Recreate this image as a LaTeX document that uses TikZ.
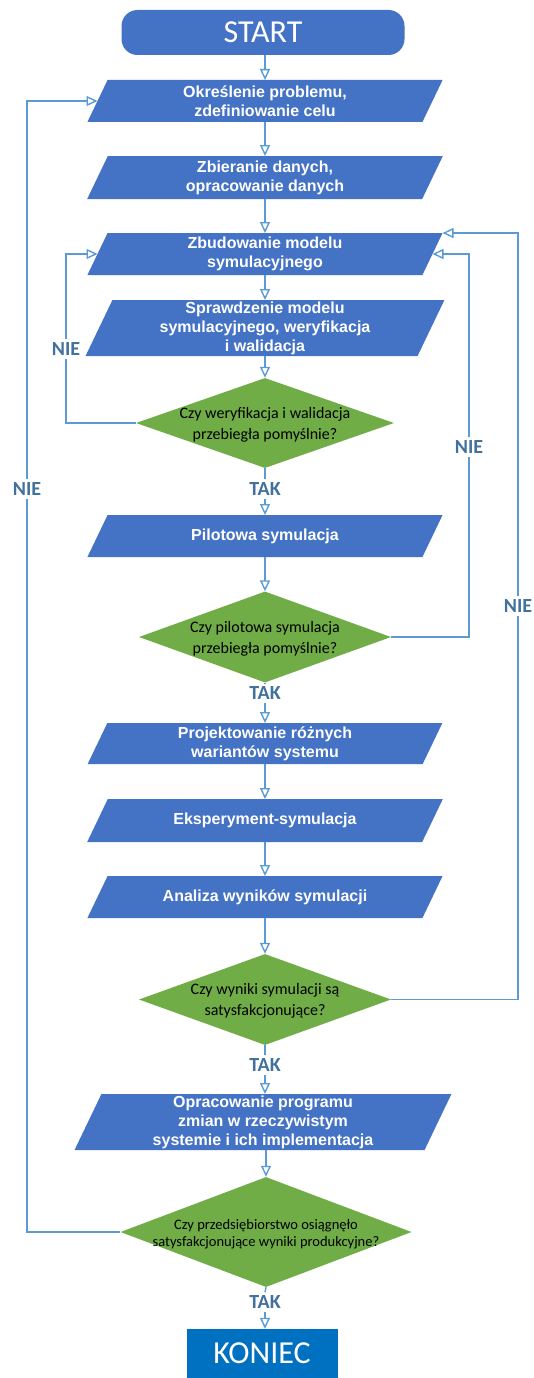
\documentclass[tikz,border=0pt]{standalone}
\usepackage{fontspec}
\newfontfamily\calib{Carlito}
\newfontfamily\arialf{Liberation Sans}
\usetikzlibrary{shapes.geometric,arrows.meta,calc}
\definecolor{pblue}{HTML}{4472C4}
\definecolor{kblue}{HTML}{0070C0}
\definecolor{dgreen}{HTML}{70AD47}
\definecolor{lnblue}{HTML}{5B9BD5}
\definecolor{lblblue}{HTML}{41719C}
\tikzset{
  paratext/.style={text=white, align=center, inner sep=0pt,
    font=\arialf\bfseries\fontsize{16}{19}\selectfont},
  decbox/.style={diamond, fill=dgreen, inner sep=0pt, draw=none},
  dtext/.style={text=black, align=center, inner sep=0pt,
    font=\calib\fontsize{16}{21}\selectfont},
  dtextsmall/.style={dtext, font=\calib\fontsize{14.5}{17.5}\selectfont},
  lbl/.style={text=lblblue, fill=white, inner sep=3pt,
    font=\calib\bfseries\fontsize{20}{24}\selectfont},
  conn/.style={draw=lnblue, line width=1.4pt},
  arr/.style={conn, -{Triangle[open, length=11pt, width=10pt]}},
}
\newcommand\mypara[6]{% name, cx, cy, edge width, height, text
  \pgfmathsetmacro\phw{#4/2}\pgfmathsetmacro\phh{#5/2}\pgfmathsetmacro\phs{#5*0.24}%
  \fill[pblue] (#2-\phw-\phs,#3+\phh) -- (#2+\phw-\phs,#3+\phh) -- (#2+\phw+\phs,#3-\phh) -- (#2-\phw+\phs,#3-\phh) -- cycle;
  \node[paratext] (#1) at (#2,#3) {#6};
  \coordinate (#1-t) at (#2,#3-\phh);
  \coordinate (#1-b) at (#2,#3+\phh);
  \coordinate (#1-l) at (#2-\phw,#3);
  \coordinate (#1-r) at (#2+\phw,#3);
  \coordinate (#1-tr) at (#2+\phw+\phs,#3-\phh);
}
\begin{document}
\begin{tikzpicture}[x=1pt, y=-1pt]
\fill[white] (0,0) rectangle (534,1378);
\useasboundingbox (0,0) rectangle (534,1378);

% terminals
\node[fill=pblue, rounded corners=16pt, minimum width=283pt, minimum height=45pt,
  text=white, font=\calib\fontsize{32}{36}\selectfont, inner sep=0pt] (start) at (263,32.5) {START};
\node[fill=kblue, minimum width=151pt, minimum height=49pt,
  text=white, font=\calib\fontsize{32}{36}\selectfont, inner sep=0pt] (end) at (262,1353.5) {KONIEC};

% process steps
\mypara{p1}{265}{101}{335}{42}{Określenie problemu,\\zdefiniowanie celu}
\mypara{p2}{265}{177.5}{335}{43}{Zbieranie danych,\\opracowanie danych}
\mypara{p3}{265}{254}{335}{42}{Zbudowanie modelu\\symulacyjnego}
\mypara{p4}{265}{328}{332}{56}{Sprawdzenie modelu\\symulacyjnego, weryfikacja\\i walidacja}
\mypara{p5}{265}{536}{335}{42}{Pilotowa symulacja}
\mypara{p6}{265}{743.5}{335}{41}{Projektowanie różnych\\wariantów systemu}
\mypara{p7}{265}{820.5}{335}{43}{Eksperyment-symulacja}
\mypara{p8}{265}{897}{335}{42}{Analiza wyników symulacji}
\mypara{p9}{263}{1122}{350}{56}{Opracowanie programu\\zmian w rzeczywistym\\systemie i ich implementacja}

% decisions
\node[decbox, minimum width=258pt, minimum height=90pt] (d1) at (265,423) {};
\node[dtext] (d1t) at (265,425) {Czy weryfikacja i walidacja\\przebiegła pomyślnie?};
\node[decbox, minimum width=252pt, minimum height=91pt] (d2) at (265,637) {};
\node[dtext] (d2t) at (265,639) {Czy pilotowa symulacja\\przebiegła pomyślnie?};
\node[decbox, minimum width=252pt, minimum height=91pt] (d3) at (265,999.5) {};
\node[dtext] (d3t) at (265,1001) {Czy wyniki symulacji są\\satysfakcjonujące?};
\node[decbox, minimum width=291pt, minimum height=110pt] (d4) at (266,1232) {};
\node[dtextsmall] (d4t) at (266,1234) {Czy przedsiębiorstwo osiągnęło\\satysfakcjonujące wyniki produkcyjne?};

% labels
\node[lbl] (t1) at (265,489) {TAK};
\node[lbl] (t2) at (265,693) {TAK};
\node[lbl] (t3) at (265,1065) {TAK};
\node[lbl] (t4) at (265,1302) {TAK};
\node[lbl] (n1) at (66,349) {NIE};
\node[lbl] (n2) at (27,489) {NIE};
\node[lbl] (n3) at (469,447) {NIE};
\node[lbl] (n4) at (518,606) {NIE};

% main flow
\draw[arr] (start.south -| p1-t) -- (p1-t);
\draw[arr] (p1-b) -- (p2-t);
\draw[arr] (p2-b) -- (p3-t);
\draw[arr] (p3-b) -- (p4-t);
\draw[arr] (p4-b) -- (d1.north);
\draw[conn] (d1.south) -- (t1.north);
\draw[arr] (t1.south) -- (p5-t);
\draw[arr] (p5-b) -- (d2.north);
\draw[conn] (d2.south) -- (t2.north);
\draw[arr] (t2.south) -- (p6-t);
\draw[arr] (p6-b) -- (p7-t);
\draw[arr] (p7-b) -- (p8-t);
\draw[arr] (p8-b) -- (d3.north);
\draw[conn] (d3.south) -- (t3.north);
\draw[arr] (t3.south) -- (p9-t -| t3.south);
\draw[arr] (p9-b -| d4.north) -- (d4.north);
\draw[conn] (d4.south) -- (t4.north);
\draw[arr] (t4.south) -- (t4.south |- end.north);

% loops
\draw[conn] (d1.west) -- (d1.west -| n1) -- (n1.south);
\draw[arr] (n1.north) -- (p3-l -| n1) -- (p3-l);
\draw[conn] (d4.west) -- (d4.west -| n2) -- (n2.south);
\draw[arr] (n2.north) -- (p1-l -| n2) -- (p1-l);
\draw[conn] (d2.east) -- (d2.east -| n3) -- (n3.south);
\draw[arr] (n3.north) -- (p3-r -| n3) -- (p3-r);
\draw[conn] (d3.east) -- (d3.east -| n4) -- (n4.south);
\draw[arr] (n4.north) -- (p3-tr -| n4) -- (p3-tr);
\end{tikzpicture}
\end{document}
